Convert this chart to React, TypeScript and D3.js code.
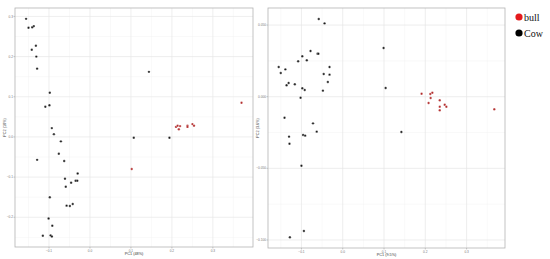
import { useEffect, useRef } from "react";
import * as d3 from "d3";

// panel 1 (left)
const p1Cow: [number, number][] = [
  [-0.156, 0.294], [-0.15, 0.272], [-0.141, 0.273], [-0.137, 0.276], [-0.132, 0.227],
  [-0.142, 0.217], [-0.131, 0.2], [-0.129, 0.17], [-0.098, 0.11], [-0.109, 0.075],
  [-0.099, 0.079], [-0.093, 0.022], [-0.088, 0.007], [-0.071, -0.011], [-0.076, -0.042],
  [-0.063, -0.06], [-0.129, -0.057], [-0.03, -0.091], [-0.061, -0.104], [-0.046, -0.114],
  [-0.035, -0.109], [-0.031, -0.109], [-0.059, -0.124], [-0.098, -0.15], [-0.057, -0.171],
  [-0.049, -0.172], [-0.042, -0.167], [-0.101, -0.203], [-0.092, -0.221], [-0.115, -0.246],
  [-0.096, -0.245], [-0.093, -0.248], [0.144, 0.162], [0.107, -0.002], [0.194, -0.002],
];
const p1Bull: [number, number][] = [
  [0.102, -0.08], [0.21, 0.025], [0.214, 0.028], [0.217, 0.019], [0.22, 0.027],
  [0.238, 0.028], [0.238, 0.025], [0.25, 0.032], [0.254, 0.028], [0.37, 0.085],
];

// panel 2 (right)
const p2Cow: [number, number][] = [
  [-0.058, 0.0542], [-0.044, 0.0512], [-0.078, 0.0319], [-0.061, 0.03], [-0.059, 0.03],
  [-0.098, 0.0282], [-0.087, 0.0254], [-0.108, 0.0247], [-0.155, 0.0207], [-0.139, 0.0191],
  [-0.032, 0.0207], [-0.15, 0.0165], [-0.046, 0.0158], [-0.032, 0.0154], [-0.131, 0.0096],
  [-0.136, 0.008], [-0.116, 0.0087], [-0.036, 0.0103], [-0.098, 0.0059], [-0.092, 0.0047],
  [-0.048, 0.0042], [-0.102, -0.0007], [-0.141, -0.0147], [-0.072, -0.0186], [-0.063, -0.0244],
  [-0.096, -0.0267], [-0.091, -0.0272], [-0.13, -0.0279], [-0.129, -0.0328], [-0.1, -0.0482],
  [-0.094, -0.0937], [-0.128, -0.0981], [0.099, 0.034], [0.104, 0.0061], [0.142, -0.0246],
];
const p2Bull: [number, number][] = [
  [0.191, 0.0021], [0.208, -0.0044], [0.212, 0.0019], [0.217, 0.0028], [0.213, -0.0009],
  [0.235, -0.0025], [0.235, -0.007], [0.235, -0.0095], [0.247, -0.0056], [0.251, -0.007],
  [0.367, -0.0088],
];

const p1XTicks = [-0.1, 0, 0.1, 0.2, 0.3];
const p1YTicks = [0.3, 0.2, 0.1, 0.0, -0.1, -0.2];
const p2XTicks = [-0.1, 0, 0.1, 0.2, 0.3];
const p2YTicks = [0.05, 0.0, -0.05, -0.1];

const legendLabels = ["bull", "Cow"];
const legendColors = ["#e41a1c", "#000000"];

const W = 550;
const H = 259;

const App = () => {
  const ref = useRef<SVGSVGElement>(null);

  useEffect(() => {
    const svg = d3.select(ref.current);
    svg.selectAll("*").remove();
    svg.append("rect").attr("width", W).attr("height", H).attr("fill", "#fff");

    const drawPanel = (
      left: number, top: number, right: number, bottom: number,
      xDom: [number, number], yDom: [number, number],
      xTicks: number[], yTicks: number[], yFmt: string,
      cow: [number, number][], bull: [number, number][],
      xTitle: string, yTitle: string
    ) => {
      const x = d3.scaleLinear().domain(xDom).range([left, right]);
      const y = d3.scaleLinear().domain(yDom).range([bottom, top]);
      const g = svg.append("g");

      // minor grid
      const xStep = xTicks[1] - xTicks[0];
      const yStep = yTicks[0] - yTicks[1];
      const xMinor = d3.range(xTicks[0] - xStep / 2, xDom[1], xStep).filter((v) => v > xDom[0]);
      const yMinor = d3.range(yTicks[yTicks.length - 1] - yStep / 2, yDom[1], yStep).filter((v) => v > yDom[0]);
      g.selectAll(".xm").data(xMinor).join("line")
        .attr("x1", (d) => x(d)).attr("x2", (d) => x(d)).attr("y1", top).attr("y2", bottom)
        .attr("stroke", "#f2f2f2").attr("stroke-width", 0.5);
      g.selectAll(".ym").data(yMinor).join("line")
        .attr("y1", (d) => y(d)).attr("y2", (d) => y(d)).attr("x1", left).attr("x2", right)
        .attr("stroke", "#f2f2f2").attr("stroke-width", 0.5);
      // major grid
      g.selectAll(".xg").data(xTicks).join("line")
        .attr("x1", (d) => x(d)).attr("x2", (d) => x(d)).attr("y1", top).attr("y2", bottom)
        .attr("stroke", "#e6e6e6").attr("stroke-width", 0.7);
      g.selectAll(".yg").data(yTicks).join("line")
        .attr("y1", (d) => y(d)).attr("y2", (d) => y(d)).attr("x1", left).attr("x2", right)
        .attr("stroke", "#e6e6e6").attr("stroke-width", 0.7);

      // border
      g.append("rect")
        .attr("x", left).attr("y", top).attr("width", right - left).attr("height", bottom - top)
        .attr("fill", "none").attr("stroke", "#b3b3b3").attr("stroke-width", 0.8);

      // ticks + labels
      g.selectAll(".xt").data(xTicks).join("line")
        .attr("x1", (d) => x(d)).attr("x2", (d) => x(d)).attr("y1", bottom).attr("y2", bottom + 1.5)
        .attr("stroke", "#999").attr("stroke-width", 0.5);
      g.selectAll(".xl").data(xTicks).join("text")
        .attr("x", (d) => x(d)).attr("y", bottom + 4.5)
        .attr("text-anchor", "middle").attr("font-size", 3.2).attr("fill", "#777")
        .attr("font-family", "Arial, sans-serif")
        .text((d) => d3.format(".1f")(d));
      g.selectAll(".yt").data(yTicks).join("line")
        .attr("y1", (d) => y(d)).attr("y2", (d) => y(d)).attr("x1", left - 1.5).attr("x2", left)
        .attr("stroke", "#999").attr("stroke-width", 0.5);
      g.selectAll(".yl").data(yTicks).join("text")
        .attr("x", left - 2).attr("y", (d) => y(d) + 1.1)
        .attr("text-anchor", "end").attr("font-size", 3.2).attr("fill", "#777")
        .attr("font-family", "Arial, sans-serif")
        .text((d) => d3.format(yFmt)(d));

      g.append("text")
        .attr("x", (left + right) / 2).attr("y", bottom + 7.5)
        .attr("text-anchor", "middle").attr("font-size", 3.8).attr("fill", "#333")
        .attr("font-family", "Arial, sans-serif").text(xTitle);
      g.append("text")
        .attr("transform", `translate(${left - 9},${(top + bottom) / 2}) rotate(-90)`)
        .attr("text-anchor", "middle").attr("font-size", 3.8).attr("fill", "#333")
        .attr("font-family", "Arial, sans-serif").text(yTitle);

      g.selectAll(".cow").data(cow).join("circle")
        .attr("cx", (d) => x(d[0])).attr("cy", (d) => y(d[1])).attr("r", 1.2)
        .attr("fill", "#1a1a1a").attr("stroke", "#fff").attr("stroke-width", 0.3);
      g.selectAll(".bull").data(bull).join("circle")
        .attr("cx", (d) => x(d[0])).attr("cy", (d) => y(d[1])).attr("r", 1.2)
        .attr("fill", "#b22a2a").attr("stroke", "#fff").attr("stroke-width", 0.3);
    };

    drawPanel(15, 8, 253, 247, [-0.183, 0.398], [-0.274, 0.321],
      p1XTicks, p1YTicks, ".1f", p1Cow, p1Bull, "PC1 (48%)", "PC2 (18%)");
    drawPanel(268, 8, 505, 248, [-0.181, 0.393], [-0.1056, 0.0619],
      p2XTicks, p2YTicks, ".3f", p2Cow, p2Bull, "PC1 (9.5%)", "PC2 (3.6%)");

    // legend
    const lg = svg.append("g");
    lg.selectAll("circle").data(legendLabels).join("circle")
      .attr("cx", 519).attr("cy", (d, i) => 17 + i * 16).attr("r", 3.6)
      .attr("fill", (d, i) => legendColors[i]);
    lg.selectAll("text").data(legendLabels).join("text")
      .attr("x", 524).attr("y", (d, i) => 20.5 + i * 16)
      .attr("font-size", 10).attr("font-family", "'Liberation Serif', 'Times New Roman', serif")
      .attr("fill", "#111").text((d) => d);
  }, []);

  return (
    <svg
      ref={ref}
      width={W}
      height={H}
      style={{ position: "absolute", left: 0, top: 0, display: "block" }}
    ></svg>
  );
};

export default App;
